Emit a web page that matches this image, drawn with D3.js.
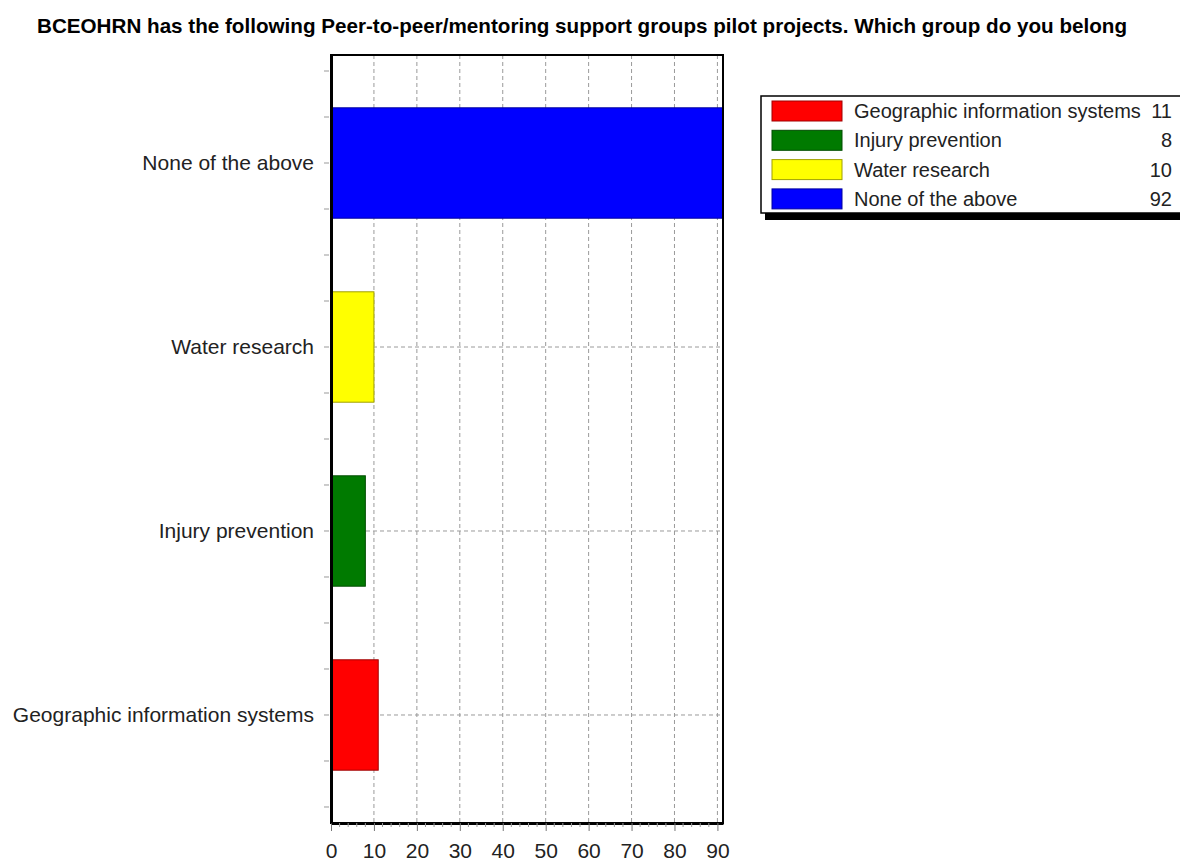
<!DOCTYPE html>
<html>
    <head>
        <meta charset="utf-8">
        <style>
            body { margin: 0; background: #fff; }
            text { font-family: Arial, "Liberation Sans", sans-serif; fill: #222; }
        </style>
    </head>
    <body>
        <svg width="1180" height="861"></svg>
        <script src="https://d3js.org/d3.v7.min.js"></script>
        <script>

            var title = "BCEOHRN has the following Peer-to-peer/mentoring support groups pilot projects. Which group do you belong";
            var categories = ["Geographic information systems", "Injury prevention", "Water research", "None of the above"];
            var counts = [11, 8, 10, 92];
            var colors = ["#ff0000", "#007a00", "#ffff00", "#0000ff"];
            var xTicks = [0, 10, 20, 30, 40, 50, 60, 70, 80, 90];

            var data = categories.map(function(c, i){
                return {name: c, value: counts[i], color: colors[i]};
            });

            function translator(x, y){
                return 'translate(' + x + ',' + y + ')';
            }

            var svg = d3.select('svg');
            var plot = {left: 331, right: 723, top: 55, bottom: 823};

            var x = d3.scaleLinear()
                .domain([0, 91.3])
                .range([plot.left, plot.right]);

            var y = d3.scaleBand()
                .domain(categories.slice().reverse())
                .range([plot.top, plot.bottom])
                .paddingInner(0.4)
                .paddingOuter(0.287);

            // title, squeezed like the original condensed font
            svg.append('text')
                .attr('x', 37)
                .attr('y', 33)
                .attr('textLength', 1090)
                .attr('lengthAdjust', 'spacingAndGlyphs')
                .style('font-size', '21px')
                .style('font-weight', 'bold')
                .style('fill', '#000')
                .text(title);

            svg.append('defs').append('clipPath')
                .attr('id', 'clip')
                .append('rect')
                .attr('x', plot.left)
                .attr('y', plot.top)
                .attr('width', plot.right - plot.left)
                .attr('height', plot.bottom - plot.top);

            // vertical grid
            svg.append('g')
                .selectAll('line')
                .data(xTicks.filter(function(d){ return d > 0; }))
                .join('line')
                .attr('x1', function(d){ return x(d); })
                .attr('x2', function(d){ return x(d); })
                .attr('y1', plot.top)
                .attr('y2', plot.bottom)
                .attr('stroke', '#9a9a9a')
                .attr('stroke-dasharray', '4,3');

            // horizontal grid at category centres
            svg.append('g')
                .selectAll('line')
                .data(categories)
                .join('line')
                .attr('x1', plot.left)
                .attr('x2', plot.right)
                .attr('y1', function(d){ return y(d) + y.bandwidth() / 2; })
                .attr('y2', function(d){ return y(d) + y.bandwidth() / 2; })
                .attr('stroke', '#9a9a9a')
                .attr('stroke-dasharray', '4,3');

            // bars
            svg.append('g')
                .attr('clip-path', 'url(#clip)')
                .selectAll('rect')
                .data(data)
                .join('rect')
                .attr('x', x(0))
                .attr('y', function(d){ return y(d.name); })
                .attr('width', function(d){ return x(d.value) - x(0); })
                .attr('height', y.bandwidth())
                .attr('fill', function(d){ return d.color; })
                .attr('stroke', function(d){ return d3.color(d.color).darker(1.3); })
                .attr('stroke-width', 1);

            // frame
            svg.append('rect')
                .attr('x', plot.left)
                .attr('y', plot.top)
                .attr('width', plot.right - plot.left)
                .attr('height', plot.bottom - plot.top)
                .attr('fill', 'none')
                .attr('stroke', '#000')
                .attr('stroke-width', 2);

            // x axis: major + minor ticks
            var xAxis = svg.append('g')
                .attr('transform', translator(0, plot.bottom));
            xAxis.call(d3.axisBottom(x).tickValues(xTicks).tickSize(8).tickSizeOuter(0).tickPadding(12));
            xAxis.select('.domain').attr('stroke', '#000').attr('stroke-width', 3);
            xAxis.selectAll('.tick line').attr('stroke', '#777');
            xAxis.selectAll('.tick text')
                .style('font-size', '21px')
                .attr('fill', '#222')
                .attr('font-family', 'Arial, "Liberation Sans", sans-serif');
            xAxis.append('g')
                .selectAll('line')
                .data(d3.range(0, 91, 2).filter(function(d){ return d % 10 !== 0; }))
                .join('line')
                .attr('x1', function(d){ return x(d); })
                .attr('x2', function(d){ return x(d); })
                .attr('y1', 0)
                .attr('y2', 4)
                .attr('stroke', '#999');

            // y axis: labels + quarter-step ticks
            var yAxis = svg.append('g')
                .attr('transform', translator(plot.left, 0));
            yAxis.call(d3.axisLeft(y).tickSize(6).tickSizeOuter(0).tickPadding(11));
            yAxis.select('.domain').attr('stroke', '#000').attr('stroke-width', 3);
            yAxis.selectAll('.tick line').attr('stroke', '#999').attr('x2', -7).attr('x1', -2);
            yAxis.selectAll('.tick text')
                .style('font-size', '21px')
                .attr('fill', '#222')
                .attr('font-family', 'Arial, "Liberation Sans", sans-serif');
            var q = y.step() / 4;
            var first = y(categories[categories.length - 1]) + y.bandwidth() / 2;
            yAxis.append('g')
                .selectAll('line')
                .data(d3.range(-2, 15).filter(function(k){ return k % 4 !== 0; }))
                .join('line')
                .attr('x1', -7)
                .attr('x2', -2)
                .attr('y1', function(k){ return first + k * q; })
                .attr('y2', function(k){ return first + k * q; })
                .attr('stroke', '#999');

            // legend
            var legend = svg.append('g').attr('transform', translator(761, 96));
            legend.append('rect')
                .attr('x', 4).attr('y', 4)
                .attr('width', 440).attr('height', 120)
                .attr('fill', '#000');
            legend.append('rect')
                .attr('x', 0).attr('y', 0)
                .attr('width', 440).attr('height', 117)
                .attr('fill', '#fff')
                .attr('stroke', '#000')
                .attr('stroke-width', 1.5);
            var row = legend.selectAll('.row')
                .data(data)
                .join('g')
                .attr('class', 'row')
                .attr('transform', function(d, i){ return translator(0, 5 + i * 29.3); });
            row.append('rect')
                .attr('x', 11).attr('y', 0)
                .attr('width', 70).attr('height', 20)
                .attr('fill', function(d){ return d.color; })
                .attr('stroke', function(d){ return d3.color(d.color).darker(1.3); });
            row.append('text')
                .attr('x', 93).attr('y', 17)
                .style('font-size', '20px')
                .text(function(d){ return d.name; });
            row.append('text')
                .attr('x', 411).attr('y', 17)
                .attr('text-anchor', 'end')
                .style('font-size', '20px')
                .text(function(d){ return d.value; });

        </script>
    </body>
</html>
